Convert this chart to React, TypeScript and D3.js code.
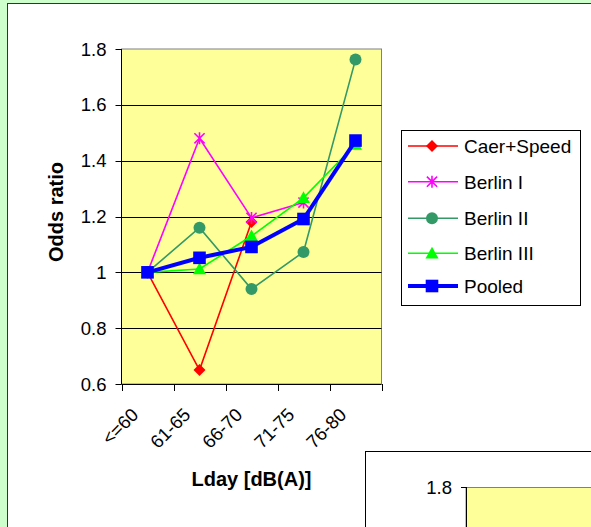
import React from "react";
import * as d3 from "d3";

// Noise exposure categories and odds ratios per study
const categories = ["<=60", "61-65", "66-70", "71-75", "76-80"];
const caerSpeed = [1.0, 0.65, 1.18];
const berlinI = [1.0, 1.48, 1.195, 1.25];
const berlinII = [1.0, 1.16, 0.94, 1.073, 1.762];
const berlinIII = [1.0, 1.012, 1.13, 1.267, 1.458];
const pooled = [1.0, 1.052, 1.091, 1.191, 1.472];
const seriesNames = ["Caer+Speed", "Berlin I", "Berlin II", "Berlin III", "Pooled"];
const yTicks = [0.6, 0.8, 1, 1.2, 1.4, 1.6, 1.8];
const secondYTicks = [1.8];

const W = 591;
const H = 527;
const FONT = "'Liberation Sans', Arial, sans-serif";

type Marker = "diamond" | "star" | "circle" | "triangle" | "square";

const seriesValues = [caerSpeed, berlinI, berlinII, berlinIII, pooled];
const seriesStyle: { color: string; marker: Marker; width: number }[] = [
  { color: "#FF0000", marker: "diamond", width: 1.6 },
  { color: "#FF00FF", marker: "star", width: 1.6 },
  { color: "#339966", marker: "circle", width: 1.6 },
  { color: "#00FF00", marker: "triangle", width: 1.6 },
  { color: "#0000FF", marker: "square", width: 4 },
];

function MarkerShape({ type, x, y, color }: { type: Marker; x: number; y: number; color: string }) {
  if (type === "diamond") {
    const r = 6;
    return <path d={`M${x},${y - r}L${x + r},${y}L${x},${y + r}L${x - r},${y}Z`} fill={color} />;
  }
  if (type === "star") {
    const r = 6;
    const d = r * 0.85;
    return (
      <path
        d={`M${x},${y - r}V${y + r}M${x - d},${y - d}L${x + d},${y + d}M${x - d},${y + d}L${x + d},${y - d}`}
        stroke={color}
        strokeWidth={1.6}
        fill="none"
      />
    );
  }
  if (type === "circle") {
    return <circle cx={x} cy={y} r={6} fill={color} />;
  }
  if (type === "triangle") {
    const s = 6.5;
    return <path d={`M${x},${y - s}L${x + s},${y + s * 0.8}L${x - s},${y + s * 0.8}Z`} fill={color} />;
  }
  const h = 6.3;
  return <rect x={x - h} y={y - h} width={h * 2} height={h * 2} fill={color} />;
}

export default function App() {
  const left = 121.5;
  const right = 381.5;
  const top = 49;
  const bottom = 384;

  const x = d3.scaleBand<string>().domain(categories).range([left, right]).padding(0);
  const y = d3.scaleLinear().domain([0.6, 1.8]).range([bottom, top]);
  const cx = (i: number) => (x(categories[i]) as number) + x.bandwidth() / 2;

  const line = d3
    .line<number>()
    .x((_, i) => cx(i))
    .y((d) => y(d));

  // second panel (partially visible)
  const y2 = d3.scaleLinear().domain([0.6, 1.8]).range([822, 487]);
  const left2 = 466;

  const legendX = 401.5;
  const legendY = 130.5;
  const legendRows = [146, 181.7, 218.3, 253.3, 286];

  return (
    <div style={{ position: "fixed", left: 0, top: 0 }}>
      <svg width={W} height={H} style={{ display: "block" }} fontFamily={FONT}>
        <rect x={0} y={0} width={W} height={H} fill="#CCFFCC" />
        <rect x={7.5} y={3.5} width={W} height={H} fill="#FFFFFF" stroke="#333" strokeWidth={1} />

        {/* plot area */}
        <rect x={left} y={top} width={right - left} height={bottom - top} fill="#FFFF99" stroke="#808080" strokeWidth={1} />
        {yTicks.slice(1, -1).map((t) => (
          <line key={t} x1={left} x2={right} y1={Math.round(y(t)) + 0.5} y2={Math.round(y(t)) + 0.5} stroke="#000" strokeWidth={1} />
        ))}

        {/* y axis */}
        <line x1={left} x2={left} y1={top} y2={bottom} stroke="#000" />
        {yTicks.map((t) => (
          <g key={t}>
            <line x1={left - 6} x2={left} y1={Math.round(y(t)) + 0.5} y2={Math.round(y(t)) + 0.5} stroke="#000" />
            <text x={left - 15} y={y(t)} dy="0.36em" textAnchor="end" fontSize={18.5} fill="#000">
              {String(t)}
            </text>
          </g>
        ))}

        {/* x axis */}
        <line x1={left} x2={right} y1={bottom + 0.5} y2={bottom + 0.5} stroke="#000" />
        {d3.range(categories.length + 1).map((i) => {
          const xv = Math.round(left + i * x.bandwidth()) + 0.5;
          return <line key={i} x1={xv} x2={xv} y1={bottom} y2={bottom + 7} stroke="#000" />;
        })}
        {categories.map((c, i) => (
          <text
            key={c}
            transform={`translate(${cx(i) - 8},${416}) rotate(-45)`}
            textAnchor="end"
            fontSize={18.5}
            fill="#000"
          >
            {c}
          </text>
        ))}

        {/* axis titles */}
        <text
          transform={`translate(${63},${212}) rotate(-90)`}
          textAnchor="middle"
          fontSize={20}
          fontWeight="bold"
          fill="#000"
        >
          Odds ratio
        </text>
        <text x={251.5} y={486} textAnchor="middle" fontSize={20} fontWeight="bold" fill="#000">
          Lday [dB(A)]
        </text>

        {/* series */}
        {seriesValues.map((vals, s) => (
          <g key={seriesNames[s]}>
            <path d={line(vals) as string} fill="none" stroke={seriesStyle[s].color} strokeWidth={seriesStyle[s].width} />
            {vals.map((v, i) => (
              <MarkerShape key={i} type={seriesStyle[s].marker} x={cx(i)} y={y(v)} color={seriesStyle[s].color} />
            ))}
          </g>
        ))}

        {/* legend */}
        <rect x={legendX} y={legendY} width={179} height={175} fill="#FFFFFF" stroke="#000" strokeWidth={1} />
        {seriesNames.map((name, s) => (
          <g key={name}>
            <line
              x1={408}
              x2={458}
              y1={legendRows[s]}
              y2={legendRows[s]}
              stroke={seriesStyle[s].color}
              strokeWidth={seriesStyle[s].width}
            />
            <MarkerShape type={seriesStyle[s].marker} x={432} y={legendRows[s]} color={seriesStyle[s].color} />
            <text x={464} y={legendRows[s]} dy="0.36em" fontSize={19} fill="#000">
              {name}
            </text>
          </g>
        ))}

        {/* second panel */}
        <rect x={365.5} y={451.5} width={W} height={H} fill="#FFFFFF" stroke="#000" strokeWidth={1} />
        <rect x={left2} y={487.5} width={W} height={H} fill="#FFFF99" stroke="#808080" strokeWidth={1} />
        <line x1={left2 + 0.5} x2={left2 + 0.5} y1={487} y2={H} stroke="#000" />
        {secondYTicks.map((t) => (
          <g key={t}>
            <line x1={left2 - 5} x2={left2} y1={Math.round(y2(t)) + 0.5} y2={Math.round(y2(t)) + 0.5} stroke="#000" />
            <text x={left2 - 14} y={y2(t)} dy="0.36em" textAnchor="end" fontSize={18.5} fill="#000">
              {String(t)}
            </text>
          </g>
        ))}
      </svg>
    </div>
  );
}
